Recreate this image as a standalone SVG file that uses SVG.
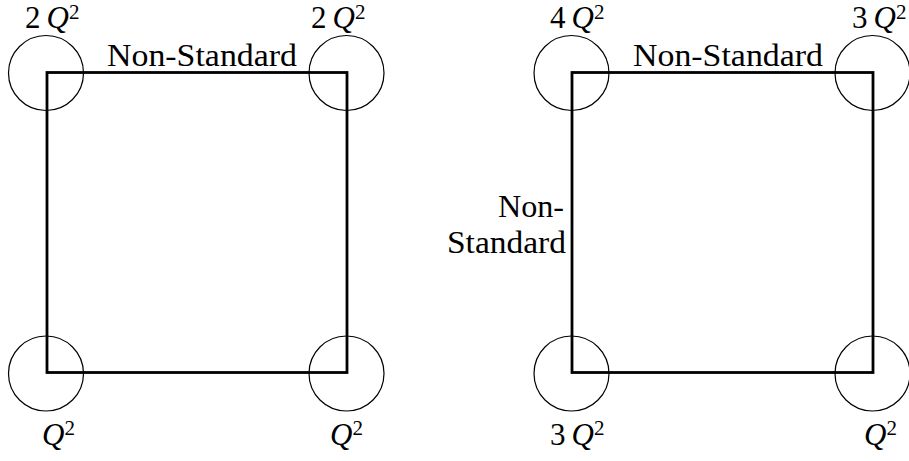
<svg xmlns="http://www.w3.org/2000/svg" width="909" height="461" viewBox="0 0 909 461">
<style>
.sq{fill:none;stroke:#000;stroke-width:2.8;stroke-linejoin:miter}
.c{fill:none;stroke:#000;stroke-width:1.2}
.t{font-family:'Liberation Serif','DejaVu Serif','Times New Roman',serif;font-size:31px;fill:#000}
.q{font-style:italic}
.sup{font-size:21px;font-style:normal}
</style>
<rect width="909" height="461" fill="#fff"/>
<g id="connectors">
<rect class="sq" x="47" y="72.5" width="300" height="300"/>
<rect class="sq" x="572" y="72.5" width="301" height="300"/>
</g>
<g font-family="Liberation Serif, DejaVu Serif, serif">
<g id="L-TL"><circle class="c" cx="46" cy="73" r="37.5"/><text class="t" x="25" y="28">2<tspan class="q" dx="6">Q</tspan><tspan class="sup" dy="-9">2</tspan></text></g>
<g id="L-TR"><circle class="c" cx="346.5" cy="73" r="37.5"/><text class="t" x="311" y="28">2<tspan class="q" dx="6">Q</tspan><tspan class="sup" dy="-9">2</tspan></text></g>
<g id="L-BL"><circle class="c" cx="46" cy="373.5" r="37.5"/><text class="t" x="42" y="445"><tspan class="q">Q</tspan><tspan class="sup" dy="-10">2</tspan></text></g>
<g id="L-BR"><circle class="c" cx="346.5" cy="373.5" r="37.5"/><text class="t" x="330" y="445"><tspan class="q">Q</tspan><tspan class="sup" dy="-10">2</tspan></text></g>
<g id="L-top-label"><text class="t" x="107" y="66" textLength="190" lengthAdjust="spacingAndGlyphs">Non-Standard</text></g>
<g id="R-TL"><circle class="c" cx="571.5" cy="73" r="37.5"/><text class="t" x="550" y="28">4<tspan class="q" dx="6">Q</tspan><tspan class="sup" dy="-9">2</tspan></text></g>
<g id="R-TR"><circle class="c" cx="872.5" cy="73" r="37.5"/><text class="t" x="852" y="28">3<tspan class="q" dx="6">Q</tspan><tspan class="sup" dy="-9">2</tspan></text></g>
<g id="R-BL"><circle class="c" cx="571.5" cy="373.5" r="37.5"/><text class="t" x="550" y="445">3<tspan class="q" dx="6">Q</tspan><tspan class="sup" dy="-10">2</tspan></text></g>
<g id="R-BR"><circle class="c" cx="872.5" cy="373.5" r="37.5"/><text class="t" x="864" y="445"><tspan class="q">Q</tspan><tspan class="sup" dy="-10">2</tspan></text></g>
<g id="R-top-label"><text class="t" x="633" y="66" textLength="190" lengthAdjust="spacingAndGlyphs">Non-Standard</text></g>
<g id="R-left-label"><text class="t" x="498" y="217" textLength="66" lengthAdjust="spacingAndGlyphs">Non-</text><text class="t" x="447" y="253" textLength="119" lengthAdjust="spacingAndGlyphs">Standard</text></g>
</g>
</svg>
